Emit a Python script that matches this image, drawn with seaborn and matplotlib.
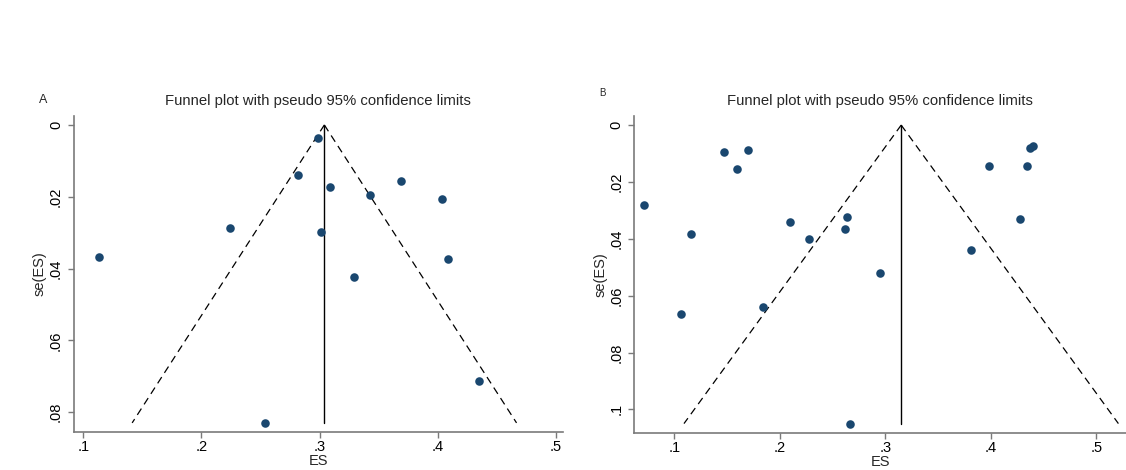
import numpy as np
import pandas as pd
import matplotlib
matplotlib.use("Agg")
from matplotlib import pyplot as plt
import seaborn as sns

# Panel A : effect sizes and standard errors
es_a = [0.299, 0.282, 0.309, 0.369, 0.343, 0.404, 0.224, 0.301, 0.1136, 0.409, 0.329, 0.435, 0.254]
se_a = [0.0036, 0.0139, 0.0173, 0.0156, 0.0194, 0.0206, 0.0288, 0.0299, 0.0367, 0.0373, 0.0423, 0.0712, 0.0830]
pooled_a = 0.304

# Panel B
es_b = [0.0709, 0.1473, 0.1695, 0.1596, 0.1158, 0.1065, 0.1842, 0.2096, 0.228, 0.2637,
        0.262, 0.2952, 0.2664, 0.3815, 0.398, 0.434, 0.4277, 0.437, 0.4397]
se_b = [0.0281, 0.0094, 0.0086, 0.0155, 0.0383, 0.0666, 0.0640, 0.0340, 0.0401, 0.0325,
        0.0366, 0.0519, 0.1050, 0.0440, 0.0143, 0.0143, 0.0329, 0.0080, 0.0074]
pooled_b = 0.315

x_ticks_a = [0.1, 0.2, 0.3, 0.4, 0.5]
y_ticks_a = [0, 0.02, 0.04, 0.06, 0.08]
x_ticks_b = [0.1, 0.2, 0.3, 0.4, 0.5]
y_ticks_b = [0, 0.02, 0.04, 0.06, 0.08, 0.1]

sns.set_style("ticks")
plt.rcParams['font.family'] = ['Liberation Sans', 'DejaVu Sans']

navy = '#1a476f'
grey = '#7a7a7a'


def stata_fmt(v):
    s = ('%g' % v)
    if s.startswith('0.'):
        s = s[1:]
    return s


def funnel(ax, es, se, pooled, xticks, yticks, xlim, ylim):
    df = pd.DataFrame({'ES': es, 'se': se})
    se_max = max(se)
    se_line = np.array([0, se_max])
    # pseudo 95% confidence limits
    ax.plot(pooled - 1.96 * se_line, se_line, color='black', linestyle=(0, (6, 4)), linewidth=0.9)
    ax.plot(pooled + 1.96 * se_line, se_line, color='black', linestyle=(0, (6, 4)), linewidth=0.9)
    ax.plot([pooled, pooled], [0, se_max], color='black', linewidth=1.0)
    sns.scatterplot(data=df, x='ES', y='se', ax=ax, color=navy, s=38, edgecolor=navy, linewidth=0, zorder=3)
    ax.set_xlim(*xlim)
    ax.set_ylim(ylim[1], ylim[0])
    ax.set_xticks(xticks)
    ax.set_xticklabels([stata_fmt(t) for t in xticks])
    ax.set_yticks(yticks)
    ax.set_yticklabels([stata_fmt(t) for t in yticks], rotation=90, va='center')
    ax.spines['top'].set_visible(False)
    ax.spines['right'].set_visible(False)
    for sp in ['left', 'bottom']:
        ax.spines[sp].set_color(grey)
        ax.spines[sp].set_linewidth(1.2)
    ax.tick_params(axis='both', colors=grey, labelcolor='black', labelsize=10.5, length=4, width=1)
    ax.tick_params(axis='x', pad=2)
    ax.set_xlabel('ES', fontsize=10.5, labelpad=0)
    ax.set_ylabel('se(ES)', fontsize=10.5, labelpad=2)
    ax.set_title('Funnel plot with pseudo 95% confidence limits', fontsize=10.7, pad=8)


fig = plt.figure(figsize=(11.26, 4.70), dpi=100)
ax1 = fig.add_axes([0.0653, 0.0819, 0.4347, 0.6713])
ax2 = fig.add_axes([0.5633, 0.0794, 0.4367, 0.6738])

funnel(ax1, es_a, se_a, pooled_a, x_ticks_a, y_ticks_a, (0.0917, 0.506), (-0.0025, 0.0854))
funnel(ax2, es_b, se_b, pooled_b, x_ticks_b, y_ticks_b, (0.0621, 0.528), (-0.0032, 0.1082))

fig.text(42.7 / 1126, 1 - 100 / 470, 'A', fontsize=9, ha='center', va='center')
fig.text(602.7 / 1126, 1 - 93.3 / 470, 'B', fontsize=7, ha='center', va='center')

fig.savefig('out.png', dpi=100, facecolor='white')
